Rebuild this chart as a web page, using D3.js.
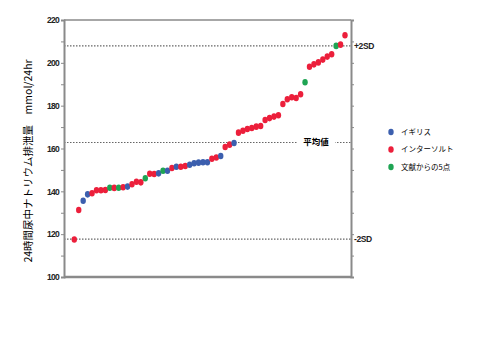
<!DOCTYPE html>
<html>
<head>
<meta charset="utf-8">
<script src="https://cdn.jsdelivr.net/npm/d3@7"></script>
<style>
  body { margin: 0; background: #fff; }
  svg { font-family: "Liberation Sans", Arial, sans-serif; }
</style>
</head>
<body>
<svg width="480" height="360"></svg>
<script>
// 24時間尿中ナトリウム排泄量 (sorted)
var values = [117.5, 131.3, 135.6, 138.6, 139.1, 140.5, 140.5, 140.6, 141.7, 141.6,
              141.7, 141.9, 142.2, 143.3, 144.5, 144.2, 146.1, 148.2, 148.1, 148.4,
              149.6, 149.6, 150.9, 151.5, 151.5, 151.8, 152.4, 153.1, 153.4, 153.6,
              153.6, 155.2, 155.8, 156.5, 160.7, 161.8, 162.6, 167.4, 168.3, 169.1,
              169.6, 170.2, 170.5, 173.3, 174.2, 174.9, 175.5, 180.8, 183.0, 183.9,
              183.6, 185.3, 190.9, 198.2, 199.3, 200.2, 201.5, 202.9, 204.0, 207.9,
              208.5, 212.9];
// I = イギリス, S = インターソルト, L = 文献からの5点
var groups = ["S","S","I","I","S","S","S","S","L","S",
              "L","S","I","S","S","S","L","S","S","I",
              "L","I","S","I","S","S","I","I","I","I",
              "I","S","S","I","S","S","I","S","S","S",
              "S","S","S","S","S","S","S","S","S","S",
              "S","S","L","S","S","S","S","S","S","L",
              "S","S"];
var legendKeys = ["I", "S", "L"];
var legendLabels = ["イギリス", "インターソルト", "文献からの5点"];
var colors = ["#3c5fae", "#ec1f3b", "#1ea453"];

var refValues = [207.9, 162.8, 117.7];
var yTicks = [100, 120, 140, 160, 180, 200, 220];

var svg = d3.select("svg"),
    pLeft = 64, pRight = 351, pTop = 20, pBottom = 277;

var x = d3.scaleLinear().domain([0, values.length - 1]).range([74.3, 345]);
var y = d3.scaleLinear().domain([100, 220]).range([pBottom, pTop]);
var z = d3.scaleOrdinal().domain(legendKeys).range(colors);

var axisColor = "#8a8a8a";

// top frame line
svg.append("line").attr("x1", pLeft).attr("x2", pRight).attr("y1", pTop).attr("y2", pTop)
    .attr("stroke", axisColor).attr("stroke-width", 1.5);

// reference dotted lines
svg.selectAll(".ref")
    .data(refValues)
    .enter().append("line")
    .attr("class", "ref")
    .attr("x1", pLeft).attr("x2", pRight)
    .attr("y1", function(d) { return y(d); })
    .attr("y2", function(d) { return y(d); })
    .attr("stroke", "#666")
    .attr("stroke-width", 1.2)
    .attr("stroke-dasharray", "1.5,1.5");

// 平均値 label with white box
svg.append("rect")
    .attr("x", 297).attr("y", y(refValues[1]) - 6)
    .attr("width", 38).attr("height", 12)
    .attr("fill", "#fff");
svg.append("text")
    .attr("x", 316).attr("y", y(refValues[1]))
    .attr("dy", "0.35em")
    .attr("text-anchor", "middle")
    .style("font", "bold 8.5px 'Noto Sans CJK JP', sans-serif")
    .text("平均値");

// left axis
var yAxis = svg.append("g")
    .attr("transform", "translate(" + pLeft + ",0)")
    .call(d3.axisLeft(y).tickValues(d3.range(100, 221, 10)).tickSize(3).tickFormat(function(d) {
        return yTicks.indexOf(d) >= 0 ? d : "";
    }));
yAxis.select(".domain").attr("stroke", axisColor).attr("stroke-width", 2);
yAxis.selectAll(".tick line").attr("stroke", axisColor);
yAxis.selectAll(".tick text")
    .attr("x", -5)
    .style("font", "bold 8.5px 'Liberation Sans Narrow', 'Liberation Sans', sans-serif")
    .style("letter-spacing", "-0.7px")
    .attr("fill", "#222");

// right axis
var yAxisR = svg.append("g")
    .attr("transform", "translate(" + pRight + ",0)")
    .call(d3.axisRight(y).tickValues(d3.range(100, 221, 10)).tickSize(3).tickFormat(""));
yAxisR.select(".domain").attr("stroke", axisColor).attr("stroke-width", 2);
yAxisR.selectAll(".tick line").attr("stroke", axisColor);

// bottom axis
svg.append("line").attr("x1", pLeft).attr("x2", pRight).attr("y1", pBottom).attr("y2", pBottom)
    .attr("stroke", axisColor).attr("stroke-width", 2.5);

// SD labels
svg.selectAll(".sd")
    .data([[refValues[0], "+2SD"], [refValues[2], "-2SD"]])
    .enter().append("text")
    .attr("x", 354)
    .attr("y", function(d) { return y(d[0]); })
    .attr("dy", "0.35em")
    .style("font", "bold 8.5px 'Liberation Sans Narrow', 'Liberation Sans', sans-serif")
    .style("letter-spacing", "-0.4px")
    .attr("fill", "#222")
    .text(function(d) { return d[1]; });

// dots
svg.selectAll(".dot")
    .data(values)
    .enter().append("ellipse")
    .attr("class", "dot")
    .attr("cx", function(d, i) { return x(i); })
    .attr("cy", function(d) { return y(d); })
    .attr("rx", 2.7)
    .attr("ry", 3.3)
    .attr("fill", function(d, i) { return z(groups[i]); });

// legend
var legend = svg.selectAll(".legend")
    .data(legendKeys)
    .enter().append("g")
    .attr("class", "legend")
    .attr("transform", function(d, i) { return "translate(391," + (132 + i * 17.5) + ")"; });
legend.append("ellipse")
    .attr("rx", 2.7).attr("ry", 3.3)
    .attr("fill", function(d) { return z(d); });
legend.append("text")
    .attr("x", 10)
    .attr("dy", "0.35em")
    .style("font", "7.5px 'Noto Sans CJK JP', sans-serif")
    .text(function(d, i) { return legendLabels[i]; });

// y title
svg.append("text")
    .attr("transform", "translate(28,161) rotate(-90)")
    .attr("text-anchor", "middle")
    .attr("dy", "0.35em")
    .style("font", "10.5px 'Noto Sans CJK JP', sans-serif")
    .text("24時間尿中ナトリウム排泄量　mmol/24hr");
</script>
</body>
</html>
